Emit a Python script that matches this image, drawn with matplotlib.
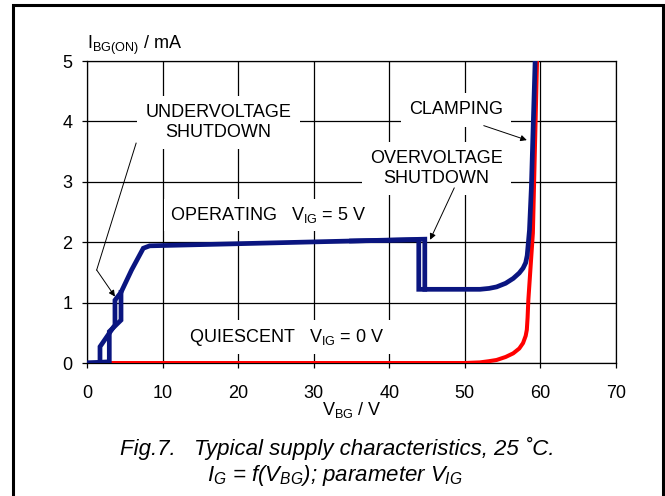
import matplotlib
matplotlib.use("Agg")
import matplotlib.pyplot as plt
from matplotlib.patches import Rectangle

plt.rcParams['font.family'] = ['Liberation Sans', 'DejaVu Sans']
plt.rcParams['mathtext.fontset'] = 'custom'
plt.rcParams['mathtext.rm'] = 'Liberation Sans'
plt.rcParams['mathtext.it'] = 'Liberation Sans:italic'
plt.rcParams['mathtext.bf'] = 'Liberation Sans:bold'

# ---- data ----
x_ticks = [0, 10, 20, 30, 40, 50, 60, 70]
y_ticks = [0, 1, 2, 3, 4, 5]

# operating curve, branch A (V_IG = 5 V)
blue_a_v = [0, 1.72, 1.72, 3.7, 3.7, 4.5, 5.9, 7.45, 8.3, 15, 25, 35, 44.7,
            44.7, 50, 52, 53.2, 54.2, 55.4, 56.4, 57.2, 57.7, 58.05, 58.25,
            58.55, 58.8, 59.3]
blue_a_i = [0, 0, 0.27, 0.63, 1.04, 1.17, 1.54, 1.90, 1.94, 1.96, 1.99, 2.02, 2.05,
            1.22, 1.22, 1.22, 1.235, 1.26, 1.32, 1.40, 1.49, 1.57, 1.66, 1.78,
            2.2, 2.9, 5.0]
# operating curve, branch B (hysteresis loops)
blue_b1_v = [0, 2.95, 2.95, 4.5, 4.5]
blue_b1_i = [0, 0.02, 0.52, 0.71, 1.17]
blue_b2_v = [35, 43.9, 43.9, 44.7]
blue_b2_i = [2.02, 2.04, 1.22, 1.22]

# quiescent curve (V_IG = 0 V)
red_v = [1.0, 10, 20, 30, 40, 50, 52, 53.2, 54.2, 55.4, 56.4, 57.2, 57.7,
         58.05, 58.2, 58.3, 58.4, 58.7, 59.0, 59.55]
red_i = [0, 0, 0, 0, 0, 0, 0.01, 0.03, 0.05, 0.10, 0.16, 0.24, 0.33,
         0.45, 0.55, 0.75, 1.04, 1.6, 2.15, 5.0]

BLUE = '#0a1580'
RED = '#ff0000'

fig = plt.figure(figsize=(6.65, 4.96), dpi=100)
ax = fig.add_axes([87/665, 1-363/496, (616-87)/665, (363-61)/496])

ax.set_xlim(0, 70)
ax.set_ylim(0, 5)
ax.set_xticks(x_ticks)
ax.set_yticks(y_ticks)
ax.set_xticklabels([str(t) for t in x_ticks])
ax.set_yticklabels([str(t) for t in y_ticks])
ax.tick_params(axis='x', direction='out', length=3.6, width=0.9, pad=12, labelsize=13)
ax.tick_params(axis='y', direction='out', length=3.6, width=0.9, pad=7, labelsize=13)
ax.grid(True, color='black', linewidth=0.9, zorder=0)
ax.set_axisbelow(True)
for s in ax.spines.values():
    s.set_linewidth(0.9)
    s.set_color('black')

ax.plot(red_v, red_i, color=RED, lw=2.9, solid_joinstyle='round', zorder=3)
ax.plot(blue_b1_v, blue_b1_i, color=BLUE, lw=3.4, solid_joinstyle='miter', zorder=4)
ax.plot(blue_b2_v, blue_b2_i, color=BLUE, lw=3.4, solid_joinstyle='miter', zorder=4)
ax.plot(blue_a_v, blue_a_i, color=BLUE, lw=3.4, solid_joinstyle='miter', zorder=4)

box = dict(boxstyle='square,pad=0.45', facecolor='white', edgecolor='none')
box2 = dict(boxstyle='square,pad=0.35', facecolor='white', edgecolor='none')

ax.text(17.4, 3.985, 'UNDERVOLTAGE\nSHUTDOWN', ha='center', va='center',
        fontsize=13, linespacing=1.25, bbox=box, zorder=5)
ax.text(48.8, 4.19, 'CLAMPING', ha='center', va='center', fontsize=13,
        bbox=box, zorder=5)
ax.text(46.2, 3.22, 'OVERVOLTAGE\nSHUTDOWN', ha='center', va='center',
        fontsize=13, linespacing=1.25, bbox=box, zorder=5)
ax.text(11.0, 2.45, 'OPERATING   V$_{\\mathrm{IG}}$ = 5 V', ha='left', va='center',
        fontsize=13, bbox=box2, zorder=5)
ax.text(13.5, 0.43, 'QUIESCENT   V$_{\\mathrm{IG}}$ = 0 V', ha='left', va='center',
        fontsize=13, bbox=box2, zorder=5)

arrow = dict(arrowstyle='-|>', color='black', lw=0.7, mutation_scale=9,
             shrinkA=0, shrinkB=0)
ax.annotate('', xy=(58.2, 3.69), xytext=(52.5, 3.93), arrowprops=arrow, zorder=6)
ax.annotate('', xy=(45.4, 2.04), xytext=(48.6, 2.90), arrowprops=arrow, zorder=6)
ax.plot([6.5, 1.28], [3.64, 1.54], color='black', lw=0.7, zorder=6)
ax.annotate('', xy=(3.7, 1.10), xytext=(1.28, 1.54), arrowprops=arrow, zorder=6)

fig.text(87/665, 1-45/496, 'I$_{\\mathrm{BG(ON)}}$ / mA', ha='left', va='center', fontsize=13)
fig.text(351.5/665, 1-410/496, 'V$_{\\mathrm{BG}}$ / V', ha='center', va='center', fontsize=13)

fig.text(337/665, 1-448/496, 'Fig.7.   Typical supply characteristics, 25 \u02daC.',
         ha='center', va='center', fontsize=16, style='italic')
fig.text(335/665, 1-475/496, '$I_G$ = f($V_{BG}$); parameter $V_{IG}$',
         ha='center', va='center', fontsize=16, style='italic')

fig.patches.append(Rectangle((12.5/665, -0.1), (662.5-12.5)/665, 1.1-4.7/496,
                             transform=fig.transFigure, fill=False,
                             edgecolor='black', linewidth=2.2, clip_on=False))

fig.savefig('out.png', dpi=100)
